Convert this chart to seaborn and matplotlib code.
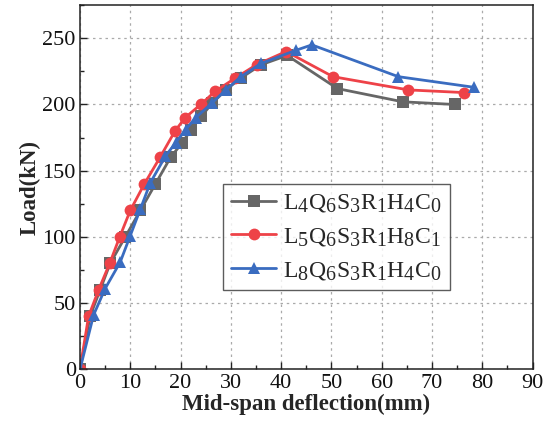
import pandas as pd
import seaborn as sns
import matplotlib.pyplot as plt
import matplotlib._mathtext as _mt

# ====== data ======
SERIES_NAMES = [
    r"L$_4$Q$_6$S$_3$R$_1$H$_4$C$_0$",
    r"L$_5$Q$_6$S$_3$R$_1$H$_8$C$_1$",
    r"L$_8$Q$_6$S$_3$R$_1$H$_4$C$_0$",
]

gray_x = [0, 2, 4, 6, 9, 12, 15, 18, 20.3, 22.1, 24.1, 26.3, 29, 32, 36, 41.2, 51.2, 64.2, 74.5]
gray_y = [0, 40, 60, 80, 100, 120, 140, 160, 171, 181, 191, 201, 211, 220, 230, 237, 212, 202, 200]

red_x = [0, 1.7, 3.7, 5.9, 7.9, 10, 12.8, 15.9, 18.9, 20.9, 24, 26.9, 30.9, 35.1, 41, 50.3, 65.3, 76.3]
red_y = [0, 40, 60, 80, 100, 120, 140, 160, 180, 190, 200, 210, 220, 230, 240, 221, 211, 209]

blue_x = [0, 2.7, 5, 8, 10, 12, 14, 17, 19, 21, 23, 26.2, 29, 32, 36, 43, 46.1, 63.3, 78.3]
blue_y = [0, 41, 61, 81, 101, 121, 141, 161, 171, 181, 190, 201, 211, 221, 231, 241, 245, 221, 213]

COLORS = ["#666666", "#ee4248", "#3a6cc0"]
MARKERS = ["s", "o", "^"]

# subscripts in the original are nearly full size
_mt.SHRINK_FACTOR = 0.85

# ====== style ======
sns.set_style("ticks")
plt.rcParams["font.family"] = ["Liberation Serif", "DejaVu Serif"]
plt.rcParams["mathtext.fontset"] = "custom"
plt.rcParams["mathtext.rm"] = "Liberation Serif"
plt.rcParams["mathtext.it"] = "Liberation Serif"
plt.rcParams["mathtext.default"] = "rm"

fig = plt.figure(figsize=(5.46, 4.29), dpi=100)
ax = fig.add_axes([0.1465, 0.139, 0.829, 0.849])

frames = []
for name, xs, ys in zip(SERIES_NAMES, [gray_x, red_x, blue_x], [gray_y, red_y, blue_y]):
    frames.append(pd.DataFrame({"x": xs, "y": ys, "name": name}))

for df, c, m in zip(frames, COLORS, MARKERS):
    sns.lineplot(data=df, x="x", y="y", sort=False, color=c, marker=m,
                 markersize=8.5, markeredgewidth=0, linewidth=2,
                 label=df["name"].iloc[0], ax=ax)

ax.set_xlim(0, 90)
ax.set_ylim(0, 275)
ax.set_xticks(range(0, 91, 10))
ax.set_yticks(range(0, 251, 50))
ax.set_xticks(range(5, 91, 10), minor=True)
ax.set_yticks(range(25, 276, 50), minor=True)
ax.tick_params(which="both", direction="in", labelsize=16, color="#222222",
               labelcolor="#111111", pad=3)
ax.tick_params(which="major", length=5, width=1)
ax.tick_params(which="minor", length=3, width=1)
ax.grid(True, which="major", linestyle=(0, (2, 3)), color="#aaaaaa", linewidth=0.9)
for s in ax.spines.values():
    s.set_linewidth(1.1)
    s.set_color("#222222")

ax.set_xlabel("Mid-span deflection(mm)", fontsize=16.5, fontweight="bold", labelpad=1)
ax.set_ylabel("Load(kN)", fontsize=16.5, fontweight="bold", labelpad=1)

leg = ax.legend(loc="upper left", bbox_to_anchor=(0.316, 0.509), fontsize=17,
                frameon=True, fancybox=False, edgecolor="#333333",
                handlelength=1.9, borderpad=0.35, labelspacing=0.5, handletextpad=0.3,
                borderaxespad=0)
leg.get_frame().set_linewidth(1.0)

fig.savefig("out.png", dpi=100)
